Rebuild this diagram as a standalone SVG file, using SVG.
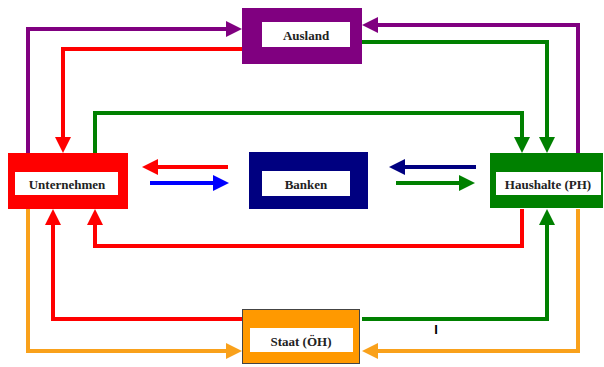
<svg xmlns="http://www.w3.org/2000/svg" width="604" height="367" viewBox="0 0 604 367">
<style>
.c{fill:none;stroke-width:4;stroke-linejoin:miter}
.lbl{font-family:"Liberation Serif","Times New Roman",serif;font-weight:bold;font-size:13px;fill:#222;text-anchor:middle;dominant-baseline:central}
.inner{fill:#fff}
</style>
<defs>
<marker id="ap" viewBox="0 0 16 16" markerWidth="16" markerHeight="16" markerUnits="userSpaceOnUse" refX="0" refY="8" orient="auto"><path d="M0,0L16,8L0,16z" fill="#800080"/></marker>
<marker id="ar" viewBox="0 0 16 16" markerWidth="16" markerHeight="16" markerUnits="userSpaceOnUse" refX="0" refY="8" orient="auto"><path d="M0,0L16,8L0,16z" fill="#f00"/></marker>
<marker id="ag" viewBox="0 0 16 16" markerWidth="16" markerHeight="16" markerUnits="userSpaceOnUse" refX="0" refY="8" orient="auto"><path d="M0,0L16,8L0,16z" fill="#008000"/></marker>
<marker id="an" viewBox="0 0 16 16" markerWidth="16" markerHeight="16" markerUnits="userSpaceOnUse" refX="0" refY="8" orient="auto"><path d="M0,0L16,8L0,16z" fill="#000080"/></marker>
<marker id="ab" viewBox="0 0 16 16" markerWidth="16" markerHeight="16" markerUnits="userSpaceOnUse" refX="0" refY="8" orient="auto"><path d="M0,0L16,8L0,16z" fill="#00f"/></marker>
<marker id="ao" viewBox="0 0 16 16" markerWidth="16" markerHeight="16" markerUnits="userSpaceOnUse" refX="0" refY="8" orient="auto"><path d="M0,0L16,8L0,16z" fill="#f9a11b"/></marker>
</defs>
<rect width="604" height="367" fill="#fff"/>
<g id="connectors">
<path class="c" stroke="#800080" marker-end="url(#ap)" d="M28,153V29H226"/>
<path class="c" stroke="#f00" marker-end="url(#ar)" d="M242,49H63V137"/>
<path class="c" stroke="#008000" marker-end="url(#ag)" d="M95,153V113H522V137"/>
<path class="c" stroke="#008000" marker-end="url(#ag)" d="M362,42H547V137"/>
<path class="c" stroke="#800080" marker-end="url(#ap)" d="M578,153V25H378"/>
<path class="c" stroke="#f00" marker-end="url(#ar)" d="M228,167H158"/>
<path class="c" stroke="#00f" marker-end="url(#ab)" d="M150,183H213"/>
<path class="c" stroke="#000080" marker-end="url(#an)" d="M476,167H405"/>
<path class="c" stroke="#008000" marker-end="url(#ag)" d="M396,183H459"/>
<path class="c" stroke="#f00" marker-end="url(#ar)" d="M522,209V246H95V225"/>
<path class="c" stroke="#008000" marker-end="url(#ag)" d="M362,319H547V225"/>
<path class="c" stroke="#f9a11b" marker-end="url(#ao)" d="M578,209V351H378"/>
<path class="c" stroke="#f9a11b" marker-end="url(#ao)" d="M28,209V351H226"/>
<path class="c" stroke="#f00" marker-end="url(#ar)" d="M242,319H53V225"/>
</g>
<g id="ausland">
<rect x="242" y="8" width="120" height="56" fill="#800080"/>
<rect class="inner" x="262" y="22" width="88" height="25"/>
<text class="lbl" x="306" y="35">Ausland</text>
</g>
<g id="unternehmen">
<rect x="8" y="153" width="120" height="56" fill="#f00"/>
<rect class="inner" x="15" y="172" width="103" height="23"/>
<text class="lbl" x="67" y="184">Unternehmen</text>
</g>
<g id="banken">
<rect x="249" y="152" width="119" height="57" fill="#000080"/>
<rect class="inner" x="262" y="171" width="88" height="25"/>
<text class="lbl" x="306" y="184">Banken</text>
</g>
<g id="haushalte">
<rect x="490" y="153" width="113" height="55" fill="#008000"/>
<rect class="inner" x="496" y="172" width="105" height="23"/>
<text class="lbl" x="548" y="184">Haushalte (PH)</text>
</g>
<g id="staat">
<rect x="242.5" y="309.5" width="117" height="54" fill="#ff9900" stroke="#444" stroke-width="1"/>
<rect class="inner" x="250" y="328" width="103" height="24"/>
<text class="lbl" x="301" y="341">Staat (ÖH)</text>
</g>
<text x="436" y="334" font-family="Liberation Sans, Arial, sans-serif" font-weight="bold" font-size="13" fill="#000" text-anchor="middle">I</text>
</svg>
